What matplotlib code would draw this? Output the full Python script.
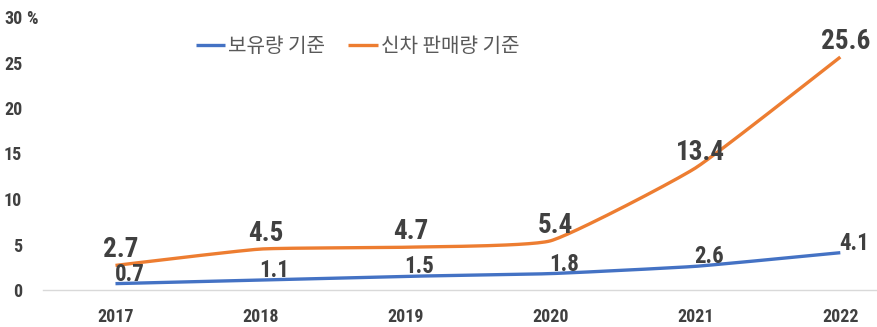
import matplotlib
matplotlib.use("Agg")
import matplotlib.pyplot as plt
import numpy as np

# 데이터
years = ["2017", "2018", "2019", "2020", "2021", "2022"]
stock = [0.7, 1.1, 1.5, 1.8, 2.6, 4.1]          # 보유량 기준
new_sales = [2.7, 4.5, 4.7, 5.4, 13.4, 25.6]    # 신차 판매량 기준
series_names = ["보유량 기준", "신차 판매량 기준"]
y_ticks = [0, 5, 10, 15, 20, 25, 30]

NUM_FONT = ["Roboto Condensed", "DejaVu Sans"]
KR_FONT = ["Noto Sans CJK KR", "DejaVu Sans"]
BLUE = "#4472C4"
ORANGE = "#ED7D31"
TXT = "#404040"


def smooth(x, y, k=14, n=30):
    # 약하게 둥글린 선 (엑셀 '부드러운 선' 흉내)
    x = np.asarray(x, float)
    y = np.asarray(y, float)
    px = np.concatenate([[x[0]], x, [x[-1]]])
    py = np.concatenate([[y[0]], y, [y[-1]]])
    xs, ys = [], []
    t = np.linspace(0, 1, n)
    for i in range(1, len(px) - 2):
        p0, p1, p2, p3 = px[i - 1:i + 3]
        q0, q1, q2, q3 = py[i - 1:i + 3]
        c1x, c1y = p1 + (p2 - p0) / k, q1 + (q2 - q0) / k
        c2x, c2y = p2 - (p3 - p1) / k, q2 - (q3 - q1) / k
        bx = (1 - t) ** 3 * p1 + 3 * (1 - t) ** 2 * t * c1x + 3 * (1 - t) * t ** 2 * c2x + t ** 3 * p2
        by = (1 - t) ** 3 * q1 + 3 * (1 - t) ** 2 * t * c1y + 3 * (1 - t) * t ** 2 * c2y + t ** 3 * q2
        xs.append(bx)
        ys.append(by)
    return np.concatenate(xs), np.concatenate(ys)


fig = plt.figure(figsize=(8.78, 3.27), dpi=100)
ax = fig.add_axes([43 / 878, 37 / 327, 1 - 43 / 878, (290 - 17) / 327])

x = np.arange(len(years))
sx, sy = smooth(x, stock)
ox, oy = smooth(x, new_sales)
l1, = ax.plot(sx, sy, color=BLUE, lw=2.4, solid_capstyle="butt", label=series_names[0])
l2, = ax.plot(ox, oy, color=ORANGE, lw=2.4, solid_capstyle="butt", label=series_names[1])

# 데이터 레이블
for xi, v in zip(x, stock):
    ax.annotate(f"{v}", (xi, v), xytext=(10, -1.5), textcoords="offset points",
                ha="center", va="bottom", fontsize=16.5, fontweight="bold",
                family=NUM_FONT, color=TXT)
for xi, v in zip(x, new_sales):
    ax.annotate(f"{v}", (xi, v), xytext=(4, 1.5), textcoords="offset points",
                ha="center", va="bottom", fontsize=19.5, fontweight="bold",
                family=NUM_FONT, color=TXT)

ax.set_xlim(-0.5, 5.26)
ax.set_ylim(0, 30)
ax.set_xticks(x)
ax.set_xticklabels(years)
ax.set_yticks(y_ticks)
ax.set_yticklabels([str(v) for v in y_ticks])
ax.tick_params(length=0)
ax.tick_params(axis="y", pad=15)
ax.tick_params(axis="x", pad=13)
for lab in ax.get_xticklabels() + ax.get_yticklabels():
    lab.set_family(NUM_FONT)
    lab.set_fontweight("bold")
    lab.set_fontsize(13)
    lab.set_color(TXT)

for s in ["top", "right", "left"]:
    ax.spines[s].set_visible(False)
ax.spines["bottom"].set_color("#D9D9D9")
ax.spines["bottom"].set_linewidth(1)

# 30 옆의 % 표시
fig.text(26 / 878, 1 - 18.5 / 327, "%", ha="left", va="center", fontsize=13,
         fontweight="bold", family=NUM_FONT, color=TXT)

leg = fig.legend(handles=[l1, l2], loc="center left", ncol=2, frameon=False,
                 bbox_to_anchor=(196 / 878, 1 - 47 / 327), borderpad=0, borderaxespad=0,
                 handlelength=1.45, handletextpad=0.15, columnspacing=1.15,
                 prop={"family": KR_FONT, "size": 14.5})
for t in leg.get_texts():
    t.set_color("#595959")

fig.savefig("out.png", dpi=100)
